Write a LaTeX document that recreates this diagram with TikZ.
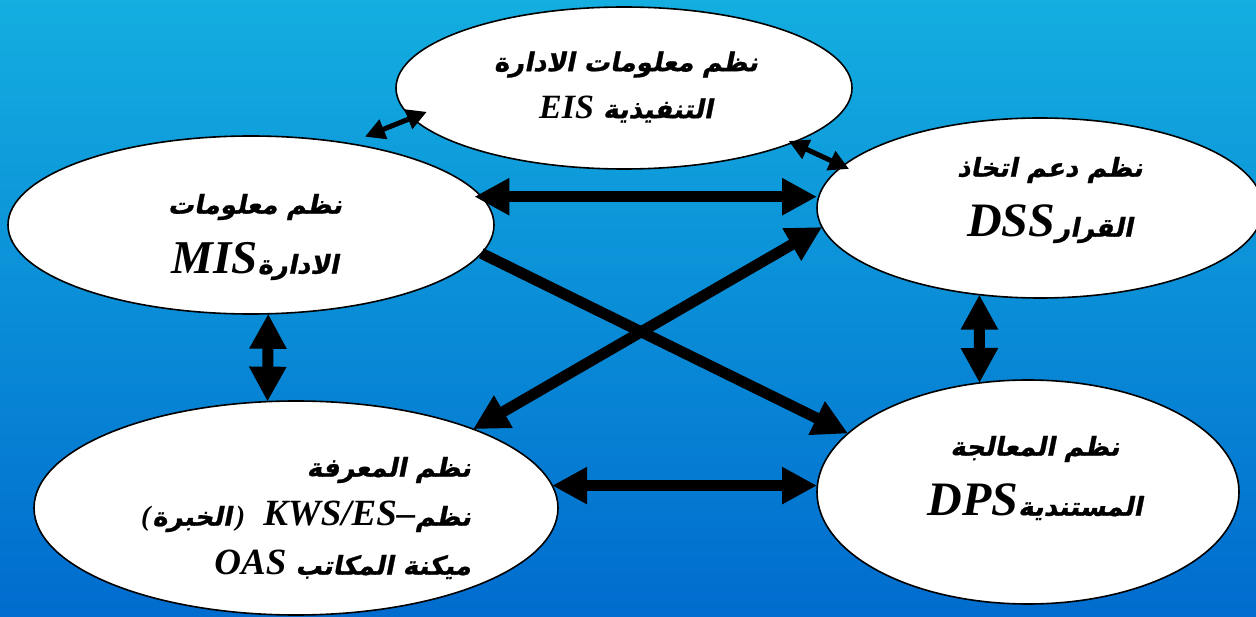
\documentclass[tikz,border=0pt]{standalone}
\usepackage{fontspec}
\usetikzlibrary{arrows.meta,positioning,calc,shapes.geometric}
\TeXXeTstate=1
\newfontfamily\arfont[Script=Arabic,FakeSlant=0.2,FakeBold=1]{DejaVu Sans}
\newfontfamily\enfont{Liberation Serif}
\definecolor{bgtop}{RGB}{20,174,224}
\definecolor{bgbot}{RGB}{0,108,206}
\tikzset{sysnode/.style={ellipse, draw, line width=1.6pt, fill=white, inner sep=0pt, outer sep=0pt}}
\tikzset{systext/.style={align=center, inner sep=0pt}}
\tikzset{arr/.style={draw, line width=11pt, >={Triangle[length=35pt,width=35pt]}, <->}}
\tikzset{smallarr/.style={arr, line width=5pt, >={Triangle[length=20pt,width=20pt]}}}
\newcommand\artxt[1]{{\arfont\bfseries\beginR #1\endR}}
\newcommand\entxt[2][34]{{\enfont\bfseries\itshape\fontsize{#1}{#1}\selectfont #2}}

\begin{document}
\begin{tikzpicture}[x=1pt,y=-1pt]
		\useasboundingbox (0,0) rectangle (1256,617);
		\shade[top color=bgtop, bottom color=bgbot] (0,0) rectangle (1256,617);
		
		% the five systems
		\node[sysnode, minimum width=456pt, minimum height=162pt] (EIS) at (624,88){};
		\node[sysnode, minimum width=486pt, minimum height=178pt] (MIS) at (251,225){};
		\node[sysnode, minimum width=446pt, minimum height=180pt] (DSS) at (1040,208){};
		\node[sysnode, minimum width=524pt, minimum height=214pt] (KWS) at (296,508){};
		\node[sysnode, minimum width=422pt, minimum height=224pt] (DPS) at (1028,492){};
		
		\node[systext, font=\arfont\bfseries\fontsize{26}{47}\selectfont] (EIS-t) at (626,87)
			{\artxt{نظم معلومات الادارة}\\ \entxt{EIS} \artxt{التنفيذية}};
		\node[systext, font=\arfont\bfseries\fontsize{26}{60}\selectfont] (MIS-t) at (255,237)
			{\artxt{نظم معلومات}\\ \entxt[47]{MIS}\artxt{الادارة}};
		\node[systext, font=\arfont\bfseries\fontsize{26}{60}\selectfont] (DSS-t) at (1050,200)
			{\artxt{نظم دعم اتخاذ}\\ \entxt[48]{DSS}\artxt{القرار}};
		\node[systext, font=\arfont\bfseries\fontsize{26}{60}\selectfont] (DPS-t) at (1035,478)
			{\artxt{نظم المعالجة}\\ \entxt[48]{DPS}\artxt{المستندية}};
		\node[systext, align=right, font=\arfont\bfseries\fontsize{26}{49}\selectfont] (KWS-t) at (306,518)
			{\artxt{نظم المعرفة}\\ \entxt[28]{(}\kern2pt\artxt{الخبرة}\kern4pt\entxt[28]{)}~~\entxt[37]{KWS/ES–}\artxt{نظم}\\ \entxt[37]{OAS} \artxt{ميكنة المكاتب}};
		
		% links
		\draw[smallarr, shorten <=18pt, shorten >=-16pt] (MIS.40) -- (EIS.188);
		\draw[smallarr, shorten <=-4pt, shorten >=-7pt] (EIS.342) -- (DSS.168);
		\draw[arr, shorten <=-7pt] (MIS.7) -- (MIS.7 -| DSS.west);
		\draw[arr, ->] (MIS.353) -- (DPS.162);
		\draw[arr] (KWS.24) -- (DSS.185);
		\draw[arr] (MIS.281) -- (KWS.105);
		\draw[arr] (DSS.235) -- (DPS.114);
		\draw[arr] (KWS.5) -- (KWS.5 -| DPS.west);
	\end{tikzpicture}
\end{document}
